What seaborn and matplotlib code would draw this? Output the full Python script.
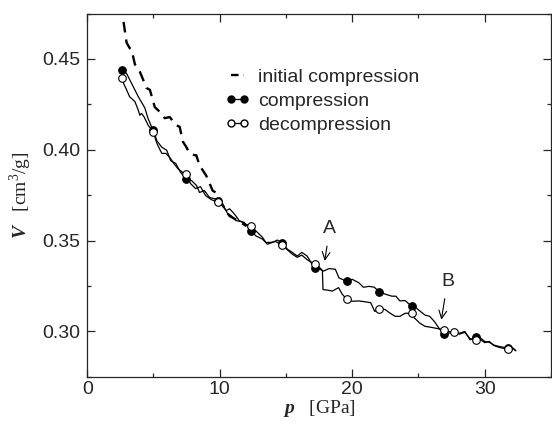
import pandas as pd
import matplotlib
matplotlib.use("Agg")
import matplotlib.pyplot as plt
import seaborn as sns
from matplotlib.lines import Line2D
from matplotlib.ticker import MultipleLocator

# ------------------------------
# Data
# ------------------------------
p_init = [2.55, 2.97, 3.2, 3.35, 3.6, 3.97, 4.48, 4.73, 5.1, 5.5, 5.85, 6.23, 6.5, 6.73, 6.98,
          7.22, 7.48, 7.73, 7.85, 8.1, 8.23, 8.48, 8.98, 9.47, 9.85, 10.2, 10.5, 10.75, 11.0,
          11.5, 12.0]
v_init = [0.48, 0.459, 0.456, 0.455, 0.447, 0.443, 0.434, 0.433, 0.4235, 0.4207, 0.4174, 0.418,
          0.4154, 0.4135, 0.4126, 0.4045, 0.4015, 0.398, 0.3978, 0.397, 0.397, 0.3914, 0.3858,
          0.3775, 0.3757, 0.370, 0.366, 0.3635, 0.3625, 0.3605, 0.358]

p_comp = [2.6, 2.97, 3.47, 3.85, 4.35, 4.58, 4.85, 5.0, 5.25, 5.63, 6.0, 6.3, 6.68, 7.05, 7.48,
          7.88, 8.25, 8.48, 8.85, 9.23, 9.6, 9.9, 10.48, 10.75, 10.98, 11.23, 11.48, 11.85, 12.35,
          12.73, 13.23, 13.6, 13.98, 14.35, 14.73, 15.1, 15.48, 15.85, 16.2, 16.6, 17.16, 17.5,
          17.85, 18.25, 18.73, 19.0, 19.3, 19.6, 20.0, 20.5, 20.85, 21.25, 21.65, 22.06, 22.5,
          23.0, 23.3, 23.6, 24.0, 24.48, 24.8, 25.1, 25.5, 25.85, 26.2, 26.55, 26.9, 27.2, 27.7,
          28.1, 28.5, 28.9, 29.35, 29.7, 30.0, 30.35, 30.7, 31.1, 31.73, 32.1, 32.35]
v_comp = [0.444, 0.442, 0.4348, 0.4293, 0.423, 0.4175, 0.4127, 0.411, 0.405, 0.4014, 0.3997,
          0.394, 0.3925, 0.3875, 0.3839, 0.383, 0.3803, 0.3765, 0.3775, 0.3737, 0.3731, 0.372,
          0.3665, 0.3675, 0.3657, 0.3635, 0.3609, 0.3600, 0.3554, 0.3526, 0.3508, 0.348, 0.349,
          0.3503, 0.3487, 0.3453, 0.3435, 0.3415, 0.3435, 0.3415, 0.3347, 0.3345, 0.3332, 0.3346,
          0.3342, 0.3295, 0.3285, 0.3277, 0.3287, 0.3268, 0.3243, 0.3248, 0.3244, 0.3218, 0.3205,
          0.3194, 0.3194, 0.3168, 0.317, 0.3138, 0.3131, 0.3113, 0.309, 0.3083, 0.3055, 0.3018,
          0.2985, 0.299, 0.2995, 0.299, 0.300, 0.2954, 0.2967, 0.2963, 0.2945, 0.294, 0.2925,
          0.2917, 0.2909, 0.2909, 0.2893]

p_decomp = [2.6, 2.75, 2.97, 3.2, 3.6, 3.85, 3.97, 4.1, 4.3, 4.6, 5.0, 5.25, 5.63, 5.93, 6.23,
            6.53, 6.83, 7.2, 7.48, 7.8, 8.18, 8.55, 8.93, 9.38, 9.9, 10.35, 10.6, 10.85, 11.23,
            11.6, 11.98, 12.35, 12.85, 13.23, 13.48, 13.85, 14.23, 14.73, 15.1, 15.48, 15.85,
            16.2, 16.6, 17.16, 17.5, 17.75, 17.8, 18.1, 18.5, 18.97, 19.25, 19.6, 20.0, 20.5,
            21.0, 21.4, 21.7, 22.06, 22.5, 22.85, 23.25, 23.6, 24.0, 24.48, 24.7, 25.1, 25.5,
            26.0, 26.5, 26.9, 27.2, 27.7, 28.1, 28.5, 28.9, 29.35, 29.7, 30.0, 30.35, 30.7, 31.1,
            31.73, 32.1, 32.35]
v_decomp = [0.4394, 0.4365, 0.433, 0.4292, 0.4265, 0.4219, 0.419, 0.420, 0.418, 0.4135, 0.4097,
            0.4036, 0.398, 0.398, 0.3958, 0.3925, 0.3897, 0.3875, 0.3864, 0.3814, 0.3786, 0.3797,
            0.3748, 0.3725, 0.3711, 0.3683, 0.3648, 0.3638, 0.361, 0.3605, 0.359, 0.358, 0.3545,
            0.3518, 0.349, 0.349, 0.3495, 0.3473, 0.345, 0.3425, 0.3408, 0.342, 0.3395, 0.337,
            0.3355, 0.3335, 0.323, 0.3228, 0.3222, 0.3241, 0.3205, 0.3176, 0.3166, 0.3168, 0.3163,
            0.3158, 0.311, 0.3126, 0.312, 0.3101, 0.3083, 0.3083, 0.310, 0.310, 0.3074, 0.3046,
            0.3028, 0.3022, 0.3015, 0.3009, 0.300, 0.2995, 0.2985, 0.2995, 0.296, 0.2952, 0.2955,
            0.2938, 0.2945, 0.2922, 0.2912, 0.2902, 0.291, 0.2895]

# marker positions
p_comp_pts = [2.6, 5.0, 7.48, 9.9, 12.35, 14.73, 17.16, 19.6, 22.06, 24.48, 26.9, 29.35, 31.73]
v_comp_pts = [0.444, 0.411, 0.3839, 0.372, 0.3554, 0.3487, 0.3347, 0.3277, 0.3218, 0.3138,
              0.2985, 0.2967, 0.2909]
p_decomp_pts = [2.6, 5.0, 7.48, 9.9, 12.35, 14.73, 17.16, 19.6, 22.06, 24.48, 26.9, 27.7, 29.35,
                31.73]
v_decomp_pts = [0.4394, 0.4097, 0.3864, 0.3711, 0.358, 0.3473, 0.337, 0.3176, 0.3126, 0.310,
                0.3009, 0.2995, 0.2952, 0.2902]

# ------------------------------
# Style
# ------------------------------
sns.set_style("ticks")
plt.rcParams['font.family'] = ['Liberation Sans', 'DejaVu Sans']
plt.rcParams['mathtext.fontset'] = 'custom'
plt.rcParams['mathtext.rm'] = 'Liberation Serif'
plt.rcParams['mathtext.bf'] = 'Liberation Serif:bold:italic'

fig, ax = plt.subplots(figsize=(5.52, 4.22), dpi=100)
fig.subplots_adjust(left=0.158, right=0.998, bottom=0.107, top=0.968)

init_df = pd.DataFrame({'p': p_init, 'V': v_init})
comp_df = pd.DataFrame({'p': p_comp, 'V': v_comp})
decomp_df = pd.DataFrame({'p': p_decomp, 'V': v_decomp})

dash = (0, (4.5, 3))
sns.lineplot(data=init_df, x='p', y='V', sort=False, estimator=None, ax=ax,
             color='black', lw=1.7, linestyle=dash)
sns.lineplot(data=comp_df, x='p', y='V', sort=False, estimator=None, ax=ax,
             color='black', lw=0.9)
sns.lineplot(data=decomp_df, x='p', y='V', sort=False, estimator=None, ax=ax,
             color='black', lw=0.9)

sns.scatterplot(x=p_comp_pts, y=v_comp_pts, ax=ax, s=30, color='black',
                edgecolor='black', linewidth=0.8, zorder=3)
sns.scatterplot(x=p_decomp_pts, y=v_decomp_pts, ax=ax, s=30, color='white',
                edgecolor='black', linewidth=0.8, zorder=4)

# ------------------------------
# Axes
# ------------------------------
ax.set_xlim(0, 35)
ax.set_ylim(0.275, 0.475)
ax.xaxis.set_major_locator(MultipleLocator(10))
ax.xaxis.set_minor_locator(MultipleLocator(5))
ax.yaxis.set_major_locator(MultipleLocator(0.05))
ax.yaxis.set_minor_locator(MultipleLocator(0.025))
ax.yaxis.set_major_formatter(matplotlib.ticker.FormatStrFormatter('%.2f'))
ax.tick_params(which='both', direction='in', top=True, right=True, width=0.9)
ax.tick_params(which='major', length=6, labelsize=14)
ax.tick_params(axis='x', which='major', pad=3)
ax.tick_params(axis='y', which='major', pad=5)
ax.tick_params(which='minor', length=3)
for s in ax.spines.values():
    s.set_linewidth(0.9)

ax.set_xlabel(r'$\mathbf{p}$   [GPa]', family='Liberation Serif', fontsize=14, labelpad=0)
ax.set_ylabel(r'$\mathbf{V}$   [cm$^{\mathrm{3}}$/g]', family='Liberation Serif', fontsize=14,
              labelpad=6)

# annotations
arrow = dict(arrowstyle='->', lw=0.8, color='black', shrinkA=4, shrinkB=0)
ax.annotate('A', xy=(17.93, 0.3388), xytext=(18.3, 0.3565), ha='center', va='center',
            fontsize=14, arrowprops=arrow)
ax.annotate('B', xy=(26.73, 0.3065), xytext=(27.2, 0.3275), ha='center', va='center',
            fontsize=14, arrowprops=arrow)

# legend
handles = [
    Line2D([], [], color='black', lw=1.7, linestyle=(0, (3.2, 2.2))),
    Line2D([], [], color='black', lw=0.9, marker='o', markersize=5,
           markerfacecolor='black', markeredgecolor='black'),
    Line2D([], [], color='black', lw=0.9, marker='o', markersize=5,
           markerfacecolor='white', markeredgecolor='black'),
]
labels = ['initial compression', 'compression', 'decompression']
ax.legend(handles, labels, loc='upper left', bbox_to_anchor=(0.28, 0.87), frameon=False,
          fontsize=14, numpoints=2, handlelength=1.3, handletextpad=0.4, labelspacing=0.32,
          borderaxespad=0)

fig.savefig('out.png', dpi=100)
